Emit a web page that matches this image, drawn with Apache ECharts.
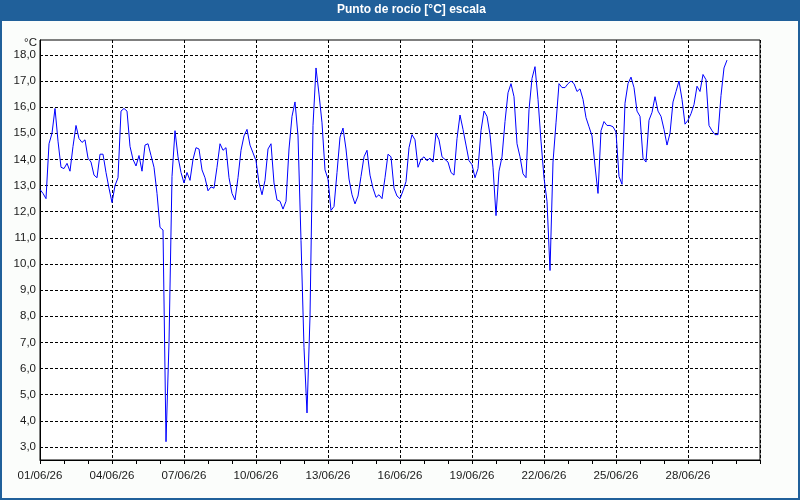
<!DOCTYPE html>
<html>
<head>
<meta charset="utf-8">
<title>Punto de rocío</title>
<script src="https://cdn.jsdelivr.net/npm/echarts@6/dist/echarts.min.js"></script>
<style>
  html, body { margin: 0; padding: 0; background: #fbfdfb; }
  #chart { width: 800px; height: 500px; }
</style>
</head>
<body>
<div id="chart"></div>
<script>
// dew point every 3 hours from 01/06/26 00:00 (x = days since 01/06)
const stepDays = 0.125
const dewDay01to05 = [
  12.85, 12.7, 12.5, 14.6, 15.0, 15.95, 14.7, 13.7, 13.65, 13.85,
  13.55, 14.5, 15.3, 14.8, 14.65, 14.75, 14.05, 13.9, 13.4, 13.3,
  14.2, 14.2, 13.5, 12.9, 12.35, 13.0, 13.3, 15.85, 15.95, 15.85,
  14.5, 14.0, 13.75, 14.15, 13.55, 14.55, 14.6, 14.15, 13.7, 12.7
]
const dewDay06to10 = [
  11.4, 11.3, 3.2, 7.0, 13.35, 15.1, 14.1, 13.5, 13.1, 13.5,
  13.2, 14.0, 14.45, 14.4, 13.6, 13.3, 12.8, 12.95, 12.9, 13.7,
  14.6, 14.35, 14.45, 13.3, 12.7, 12.45, 13.3, 14.35, 14.9, 15.15,
  14.55, 14.25, 13.95, 13.1, 12.65, 13.2, 14.4, 14.6, 13.1, 12.45
]
const dewDay11to15 = [
  12.4, 12.1, 12.4, 14.4, 15.65, 16.2, 14.9, 10.9, 6.8, 4.3,
  8.0, 15.3, 17.5, 16.5, 15.4, 13.6, 13.25, 12.05, 12.2, 13.5,
  14.85, 15.2, 14.4, 13.25, 12.65, 12.3, 12.6, 13.35, 14.1, 14.35,
  13.4, 12.9, 12.55, 12.65, 12.5, 13.3, 14.2, 14.1, 12.9, 12.6
]
const dewDay16to20 = [
  12.5, 12.8, 13.15, 14.45, 14.95, 14.75, 13.7, 14.0, 14.1, 13.95,
  14.05, 13.9, 15.0, 14.75, 14.1, 14.0, 13.9, 13.5, 13.4, 14.8,
  15.7, 15.15, 14.55, 13.95, 13.8, 13.3, 13.65, 15.1, 15.85, 15.65,
  14.95, 13.7, 11.85, 13.55, 14.1, 15.45, 16.55, 16.9, 16.4, 14.6
]
const dewDay21to25 = [
  14.1, 13.45, 13.3, 15.9, 17.1, 17.55, 16.3, 14.7, 13.3, 12.4,
  9.75, 13.9, 15.4, 16.9, 16.75, 16.75, 16.9, 17.0, 16.9, 16.6,
  16.7, 16.3, 15.6, 15.25, 14.9, 13.75, 12.7, 15.1, 15.45, 15.3,
  15.3, 15.25, 15.05, 13.35, 13.05, 16.15, 16.9, 17.15, 16.75, 15.85
]
const dewDay26to29 = [
  15.65, 14.05, 13.9, 15.5, 15.8, 16.4, 15.85, 15.65, 15.15, 14.55,
  15.0, 16.2, 16.6, 17.0, 16.3, 15.35, 15.5, 15.75, 16.1, 16.8,
  16.6, 17.25, 17.05, 15.3, 15.1, 14.95, 14.95, 16.45, 17.5, 17.8
]
const dateLabels = [
  '01/06/26', '04/06/26', '07/06/26', '10/06/26', '13/06/26',
  '16/06/26', '19/06/26', '22/06/26', '25/06/26', '28/06/26'
]
const yTicks = [3, 4, 5, 6, 7, 8, 9, 10, 11, 12, 13, 14, 15, 16, 17, 18]

const dew = [].concat(dewDay01to05, dewDay06to10, dewDay11to15,
  dewDay16to20, dewDay21to25, dewDay26to29)
const points = dew.map((v, i) => [i * stepDays, v])

const blue = '#20609a'
const font = 'Liberation Sans, Arial, sans-serif'

const chart = echarts.init(document.getElementById('chart'))
chart.setOption({
  backgroundColor: '#fbfdfb',
  animation: false,
  title: {
    text: 'Punto de rocío [°C] escala',
    left: 337,
    top: 4,
    padding: 0,
    textStyle: { color: '#fff', fontSize: 12, fontWeight: 'bold', fontFamily: font }
  },
  graphic: [
    { type: 'rect', z: -10, shape: { x: 0, y: 0, width: 800, height: 21 }, style: { fill: blue } },
    { type: 'rect', z: -10, shape: { x: 1, y: 1, width: 798, height: 498 }, style: { fill: null, stroke: blue, lineWidth: 2 } }
  ],
  grid: {
    left: 40, right: 40, top: 40, bottom: 40,
    show: true,
    backgroundColor: '#ffffff',
    borderColor: '#000',
    borderWidth: 1
  },
  xAxis: {
    type: 'value',
    min: 0,
    max: 30,
    interval: 3,
    axisLine: { lineStyle: { color: '#000', width: 1 } },
    axisTick: { show: true, length: 4, lineStyle: { color: '#000' } },
    minorTick: { show: true, splitNumber: 3, length: 4, lineStyle: { color: '#000' } },
    splitLine: { show: true, lineStyle: { color: '#000', type: [3, 2], width: 1 } },
    axisLabel: {
      color: '#1a1a1a',
      fontSize: 11.5,
      fontFamily: font,
      margin: 10,
      showMaxLabel: false,
      formatter: v => dateLabels[Math.round(v / 3)] || ''
    }
  },
  yAxis: {
    type: 'value',
    min: 2.5,
    max: 18.57,
    name: '°C',
    nameLocation: 'end',
    nameGap: -5.5,
    nameTextStyle: {
      color: '#1a1a1a', fontSize: 11.5, fontFamily: font,
      align: 'right', verticalAlign: 'middle', padding: [0, 3, 0, 0]
    },
    axisLine: { show: true, lineStyle: { color: '#000' } },
    axisTick: { show: false, customValues: yTicks },
    splitLine: { show: true, lineStyle: { color: '#000', type: [3, 2], width: 1 } },
    axisLabel: {
      customValues: yTicks,
      color: '#1a1a1a',
      fontSize: 11.5,
      fontFamily: font,
      margin: 4,
      formatter: v => v.toFixed(1).replace('.', ',')
    }
  },
  series: [{
    type: 'line',
    data: points,
    showSymbol: false,
    symbol: 'none',
    lineStyle: { color: '#0000ff', width: 1 },
    silent: true
  }]
})
</script>
</body>
</html>
